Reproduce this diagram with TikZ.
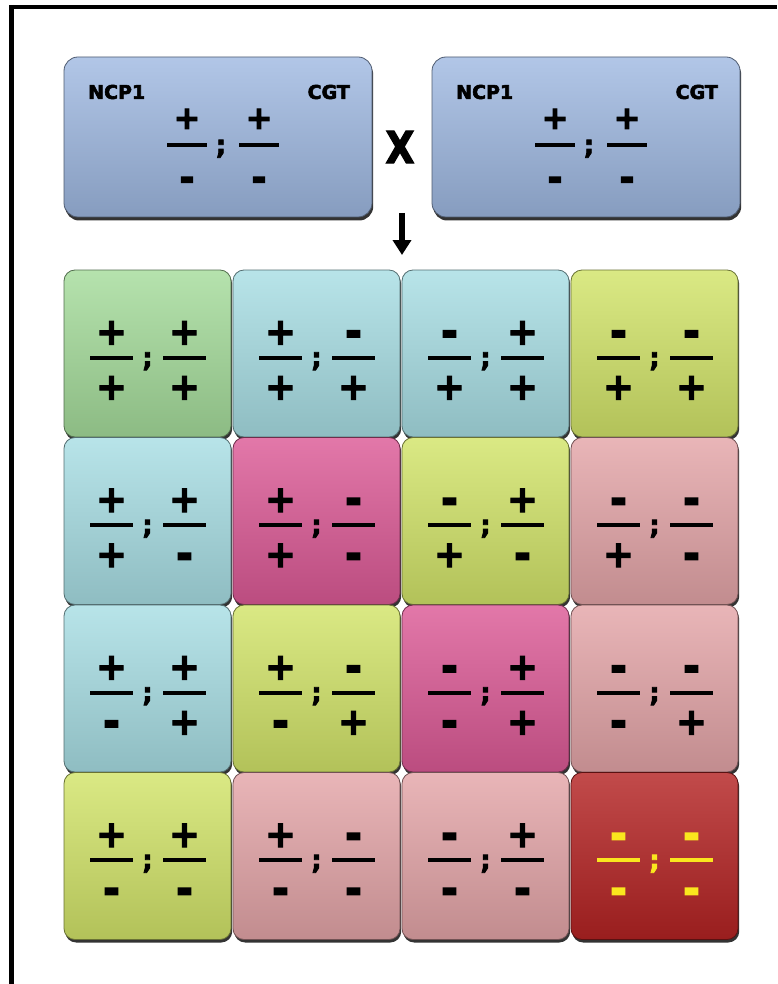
\documentclass[tikz,border=0pt]{standalone}
\usepackage{fontspec}
\setmainfont{DejaVu Sans}
\newfontfamily\sgnfont{DejaVu Sans}[FakeBold=3]
\newfontfamily\mnsfont{DejaVu Sans}[FakeBold=7]
\usetikzlibrary{arrows.meta,shadows}
\definecolor{tgreen}{RGB}{165,220,155}
\definecolor{tcyan}{RGB}{168,222,228}
\definecolor{tyel}{RGB}{210,228,105}
\definecolor{tmag}{RGB}{220,90,150}
\definecolor{tpink}{RGB}{228,165,168}
\definecolor{tred}{RGB}{180,35,35}
\definecolor{tblue}{RGB}{158,184,225}
\definecolor{tyellowtxt}{RGB}{250,230,30}
\newcommand\pls{+}
\newcommand\mns{{\mnsfont\bfseries -}}
\tikzset{
  tilebox/.style={rounded corners=11pt, minimum width=167pt, minimum height=167pt, inner sep=0pt,
    line width=0.8pt, drop shadow={shadow xshift=1.2pt, shadow yshift=-3pt, opacity=0.8, fill=black}},
  bluebox/.style={rounded corners=14pt, minimum width=308pt, minimum height=160pt, inner sep=0pt,
    line width=0.8pt, top color=tblue!80!white, middle color=tblue, bottom color=tblue!85!black, draw=tblue!50!black,
    drop shadow={shadow xshift=1.2pt, shadow yshift=-3.5pt, opacity=0.8, fill=black}},
  sgn/.style={inner sep=0pt, anchor=base, font=\sgnfont\bfseries\fontsize{37}{40}\selectfont},
  tsgn/.style={inner sep=0pt, anchor=base, font=\sgnfont\bfseries\fontsize{32}{36}\selectfont},
  semi/.style={inner sep=0pt, anchor=base, font=\sgnfont\bfseries\fontsize{26}{30}\selectfont},
  lbl/.style={inner sep=0pt, font=\sgnfont\bfseries\fontsize{19}{22}\selectfont},
  frameline/.style={line width=4.2pt, black},
}
% #1 name, #2 col, #3 row, #4 colour, #5-#8 signs, #9 text colour
\newcommand\tile[9]{%
  \node[tilebox, top color=#4!82!white, middle color=#4, bottom color=#4!85!black, draw=#4!50!black]
    (#1) at ({147.5+169*#2},{353.5+167.5*#3}) {};
  \node[sgn, text=#9] (#1a) at ([shift={(-36,-9)}]#1.center) {#5};
  \node[sgn, text=#9] (#1b) at ([shift={(-36,46)}]#1.center) {#6};
  \node[sgn, text=#9] (#1c) at ([shift={(37,-9)}]#1.center) {#7};
  \node[sgn, text=#9] (#1d) at ([shift={(37,46)}]#1.center) {#8};
  \fill[#9] ([shift={(-57.5,2)}]#1.center) rectangle ([shift={(-14.5,6)}]#1.center);
  \fill[#9] ([shift={(15.5,2)}]#1.center) rectangle ([shift={(58.5,6)}]#1.center);
  \node[semi, text=#9] (#1s) at ([shift={(0,13)}]#1.center) {;};
}
% #1 name, #2 centre x
\newcommand\topbox[2]{%
  \node[bluebox] (#1) at (#2,137) {};
  \node[lbl, anchor=west] (#1l) at ([shift={(-130,-45)}]#1.center) {NCP1};
  \node[lbl, anchor=east] (#1r) at ([shift={(132,-45)}]#1.center) {CGT};
  \node[tsgn] (#1a) at ([shift={(-31,-8)}]#1.center) {\pls};
  \node[tsgn] (#1b) at ([shift={(-31,52)}]#1.center) {\mns};
  \node[tsgn] (#1c) at ([shift={(41,-8)}]#1.center) {\pls};
  \node[tsgn] (#1d) at ([shift={(41,52)}]#1.center) {\mns};
  \fill[black] ([shift={(-51,6)}]#1.center) rectangle ([shift={(-11,10)}]#1.center);
  \fill[black] ([shift={(21,6)}]#1.center) rectangle ([shift={(61,10)}]#1.center);
  \node[semi] (#1s) at ([shift={(3,17)}]#1.center) {;};
}
\begin{document}
\begin{tikzpicture}[x=1pt,y=-1pt]
\useasboundingbox (0,0) rectangle (777,984);
\fill[white] (0,0) rectangle (777,984);
% frame
\draw[frameline] (9.5,7) -- (777,7);
\draw[frameline] (11.5,5) -- (11.5,984);
% parents
\topbox{pa}{218}
\topbox{pb}{586}
\node[inner sep=0pt, font=\sgnfont\bfseries\fontsize{44}{48}\selectfont, xscale=0.85] (cross) at (400,147) {X};
\coordinate (arrS) at (402,213);
\coordinate (arrE) at (402,255);
\draw[line width=5.5pt, -{Triangle[width=18pt, length=15pt]}] (arrS) -- (arrE);
% grid
\tile{t00}{0}{0}{tgreen}{\pls}{\pls}{\pls}{\pls}{black}
\tile{t10}{1}{0}{tcyan}{\pls}{\pls}{\mns}{\pls}{black}
\tile{t20}{2}{0}{tcyan}{\mns}{\pls}{\pls}{\pls}{black}
\tile{t30}{3}{0}{tyel}{\mns}{\pls}{\mns}{\pls}{black}
\tile{t01}{0}{1}{tcyan}{\pls}{\pls}{\pls}{\mns}{black}
\tile{t11}{1}{1}{tmag}{\pls}{\pls}{\mns}{\mns}{black}
\tile{t21}{2}{1}{tyel}{\mns}{\pls}{\pls}{\mns}{black}
\tile{t31}{3}{1}{tpink}{\mns}{\pls}{\mns}{\mns}{black}
\tile{t02}{0}{2}{tcyan}{\pls}{\mns}{\pls}{\pls}{black}
\tile{t12}{1}{2}{tyel}{\pls}{\mns}{\mns}{\pls}{black}
\tile{t22}{2}{2}{tmag}{\mns}{\mns}{\pls}{\pls}{black}
\tile{t32}{3}{2}{tpink}{\mns}{\mns}{\mns}{\pls}{black}
\tile{t03}{0}{3}{tyel}{\pls}{\mns}{\pls}{\mns}{black}
\tile{t13}{1}{3}{tpink}{\pls}{\mns}{\mns}{\mns}{black}
\tile{t23}{2}{3}{tpink}{\mns}{\mns}{\pls}{\mns}{black}
\tile{t33}{3}{3}{tred}{\mns}{\mns}{\mns}{\mns}{tyellowtxt}
\end{tikzpicture}
\end{document}
